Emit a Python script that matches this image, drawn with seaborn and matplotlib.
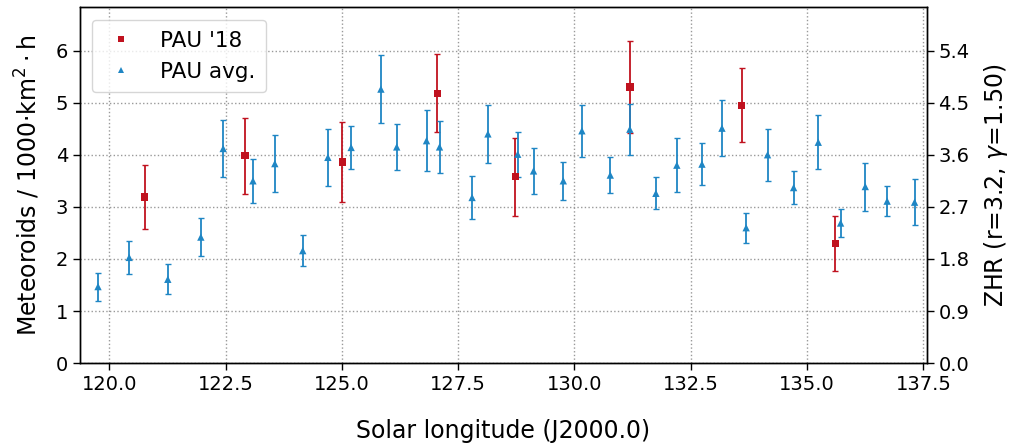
import matplotlib
matplotlib.use("Agg")
import matplotlib.pyplot as plt
import seaborn as sns
import pandas as pd

# PAU '18 (red squares)
lon_18 = [120.76, 122.92, 125.01, 127.05, 128.73, 131.19, 133.59, 135.61]
rate_18 = [3.19, 3.98, 3.86, 5.18, 3.58, 5.30, 4.95, 2.30]
err_18 = [0.62, 0.73, 0.76, 0.75, 0.75, 0.89, 0.71, 0.53]

# PAU average (blue triangles)
lon_avg = [119.76, 120.43, 121.26, 121.97, 122.45, 123.09, 123.56, 124.16,
           124.70, 125.20, 125.84, 126.18, 126.82, 127.10, 127.80, 128.14,
           128.78, 129.12, 129.76, 130.16, 130.77, 131.19, 131.75, 132.20,
           132.74, 133.17, 133.69, 134.15, 134.71, 135.24, 135.72, 136.25,
           136.72, 137.31]
rate_avg = [1.47, 2.03, 1.61, 2.42, 4.12, 3.50, 3.83, 2.16, 3.95, 4.14, 5.26,
            4.15, 4.27, 4.15, 3.18, 4.40, 4.01, 3.69, 3.50, 4.46, 3.61, 4.49,
            3.26, 3.80, 3.82, 4.51, 2.60, 4.00, 3.37, 4.24, 2.69, 3.39, 3.11,
            3.09]
err_avg = [0.27, 0.32, 0.29, 0.36, 0.55, 0.42, 0.55, 0.30, 0.55, 0.42, 0.66,
           0.44, 0.58, 0.50, 0.41, 0.56, 0.43, 0.44, 0.36, 0.50, 0.35, 0.49,
           0.31, 0.52, 0.40, 0.54, 0.29, 0.50, 0.32, 0.52, 0.26, 0.46, 0.29,
           0.44]

x_ticks = [120.0, 122.5, 125.0, 127.5, 130.0, 132.5, 135.0, 137.5]
y_ticks = [0, 1, 2, 3, 4, 5, 6]
ZHR_FACTOR = 0.9

RED = "#c0121f"
BLUE = "#1f86c4"

sns.set_theme(style="ticks", rc={
    "axes.edgecolor": "black",
    "axes.linewidth": 1.0,
    "xtick.color": "black",
    "ytick.color": "black",
    "text.color": "black",
    "axes.labelcolor": "black",
})
plt.rcParams["font.family"] = ["DejaVu Sans"]
plt.rcParams["mathtext.fontset"] = "dejavusans"

df = pd.concat([
    pd.DataFrame({"lon": lon_18, "rate": rate_18, "err": err_18, "set": "PAU '18"}),
    pd.DataFrame({"lon": lon_avg, "rate": rate_avg, "err": err_avg, "set": "PAU avg."}),
], ignore_index=True)

fig = plt.figure(figsize=(10.11, 4.44), dpi=100)
ax = fig.add_axes([0.079, 0.182, 0.8376, 0.8016])

colors = {"PAU '18": RED, "PAU avg.": BLUE}
markers = {"PAU '18": "s", "PAU avg.": "^"}
for i, (name, sub) in enumerate(df.groupby("set", sort=False)):
    ax.errorbar(sub["lon"], sub["rate"], yerr=sub["err"], fmt="none",
                ecolor=colors[name], elinewidth=1.3, capsize=2, capthick=1,
                zorder=2 + i)

sns.scatterplot(data=df, x="lon", y="rate", hue="set", style="set",
                palette=colors, markers=markers, s=28, linewidth=0,
                ax=ax, zorder=5, legend=True)

ax.set_xlim(119.37, 137.57)
ax.set_ylim(0, 6.83)
ax.set_xticks(x_ticks)
ax.set_xticklabels([f"{v:.1f}" for v in x_ticks])
ax.set_yticks(y_ticks)
ax.tick_params(labelsize=14, length=5, width=1)
ax.grid(True, linestyle=":", color="#999999", linewidth=1)
ax.set_axisbelow(True)
ax.set_xlabel("Solar longitude (J2000.0)", fontsize=17, labelpad=18)
ax.set_ylabel("Meteoroids / 1000·km$^2\\cdot$h", fontsize=17, labelpad=10)

leg = ax.legend(loc="upper left", fontsize=15.5, frameon=True, fancybox=True,
                edgecolor="#cccccc", handlelength=1.7, handletextpad=0.95,
                borderpad=0.5, borderaxespad=0,
                bbox_to_anchor=(0.0142, 0.964), markerscale=0.9)
leg.get_frame().set_linewidth(1)

ax2 = ax.twinx()
ax2.set_ylim(0, 6.83 * ZHR_FACTOR)
ax2.set_yticks([t * ZHR_FACTOR for t in y_ticks])
ax2.set_yticklabels([f"{t * ZHR_FACTOR:.1f}" for t in y_ticks])
ax2.tick_params(labelsize=14, length=5, width=1)
ax2.grid(False)
ax2.set_ylabel("ZHR (r=3.2, $\\gamma$=1.50)", fontsize=17, labelpad=9)

fig.savefig("out.png", dpi=100)
